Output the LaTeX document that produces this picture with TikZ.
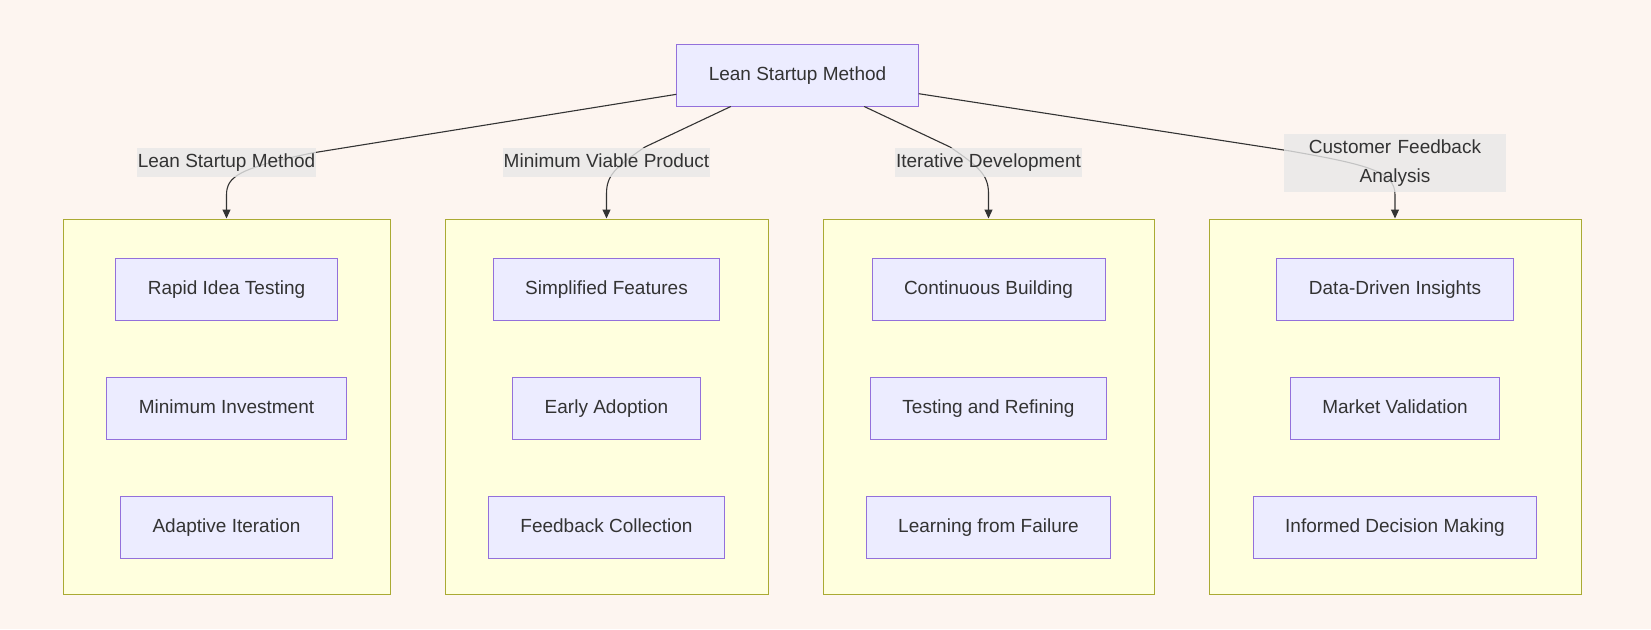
\documentclass[tikz,border=0pt]{standalone}
\usepackage{fontspec}
\setmainfont{Liberation Sans}
\usetikzlibrary{positioning,arrows.meta}
\definecolor{bgpeach}{HTML}{FDF5F0}
\definecolor{boxfill}{HTML}{ECECFF}
\definecolor{boxline}{HTML}{9370DB}
\definecolor{grpfill}{HTML}{FFFFDE}
\definecolor{grpline}{HTML}{AAAA33}
\definecolor{lblfill}{HTML}{E8E8E8}
\definecolor{ink}{HTML}{333333}

\begin{document}
\begin{tikzpicture}[x=1pt,y=-1pt,
    every node/.style={font=\fontsize{19}{29}\selectfont, text=ink},
    stepbox/.style={draw=boxline, fill=boxfill, line width=1pt, inner xsep=32pt, inner ysep=0pt,
      text height=14pt, text depth=4pt, minimum height=62pt},
    group/.style={draw=grpline, fill=grpfill, line width=1pt, minimum height=375pt},
    lbl/.style={fill=lblfill, fill opacity=0.8, text opacity=1, inner xsep=1pt, inner ysep=0pt,
      text height=14pt, text depth=4pt, minimum height=29pt},
    link/.style={draw=ink, line width=1.1pt, -{Triangle[length=9pt,width=8pt]}},
    node distance=56pt]
  \fill[bgpeach] (0,0) rectangle (1651,629);
  \useasboundingbox (0,0) rectangle (1651,629);

  \node[stepbox] (lean) at (797.5,75) {Lean Startup Method};

  \node[group, minimum width=327pt] (g1) at (226.5,406.5) {};
  \node[group, minimum width=323pt] (g2) at (606.5,406.5) {};
  \node[group, minimum width=331pt] (g3) at (988.5,406.5) {};
  \node[group, minimum width=372pt] (g4) at (1395,406.5) {};

  \node[stepbox] (a1) at (226.5,289) {Rapid Idea Testing};
  \node[stepbox, below=of a1] (a2) {Minimum Investment};
  \node[stepbox, below=of a2] (a3) {Adaptive Iteration};

  \node[stepbox] (b1) at (606.5,289) {Simplified Features};
  \node[stepbox, below=of b1] (b2) {Early Adoption};
  \node[stepbox, below=of b2] (b3) {Feedback Collection};

  \node[stepbox] (c1) at (988.5,289) {Continuous Building};
  \node[stepbox, below=of c1] (c2) {Testing and Refining};
  \node[stepbox, below=of c2] (c3) {Learning from Failure};

  \node[stepbox] (d1) at (1395,289) {Data-Driven Insights};
  \node[stepbox, below=of d1] (d2) {Market Validation};
  \node[stepbox, below=of d2] (d3) {Informed Decision Making};

  \draw[link] (lean) -- (312,153) .. controls (240,168) and (226.5,176) .. (226.5,195) -- (g1.north);
  \draw[link] (lean) -- (645,147) .. controls (614,168) and (606.5,176) .. (606.5,194) -- (g2.north);
  \draw[link] (lean) -- (950,147) .. controls (981,168) and (988.5,176) .. (988.5,194) -- (g3.north);
  \draw[link] (lean) -- (1290,151) .. controls (1370,165) and (1395,172) .. (1395,195) -- (g4.north);

  \node[lbl] (l1) at (226.5,162.5) {Lean Startup Method};
  \node[lbl] (l2) at (606.5,162.5) {Minimum Viable Product};
  \node[lbl] (l3) at (988.5,162.5) {Iterative Development};
  \node[lbl, text width=220pt, align=center, text height=14pt, text depth=33pt, minimum height=58pt] (l4) at (1395,163) {Customer Feedback\\Analysis};
\end{tikzpicture}
\end{document}
